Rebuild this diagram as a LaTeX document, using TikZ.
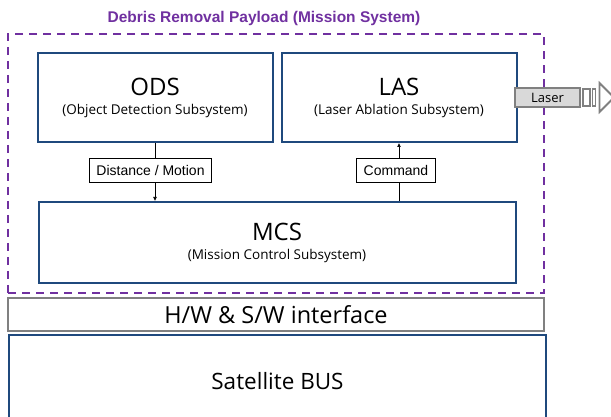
\documentclass[tikz,border=0pt]{standalone}
\usepackage{fontspec}
\setmainfont{Open Sans}
\newfontfamily\arialfont{Liberation Sans}
\usepackage{xcolor}
\usetikzlibrary{arrows.meta, positioning}

\definecolor{sysblue}{RGB}{31,73,125}
\definecolor{paypurple}{RGB}{112,48,160}
\definecolor{ifgray}{RGB}{128,128,128}
\definecolor{lasfill}{RGB}{217,217,217}

\newcommand{\bigname}[1]{{\fontsize{24}{26}\selectfont #1}}
\newcommand{\subname}[1]{{\fontsize{13.5}{15}\selectfont #1}}

\begin{document}
\begin{tikzpicture}[x=1pt, y=-1pt,
  box/.style={draw=sysblue, line width=2pt, minimum width=235pt, minimum height=89pt, align=center, inner sep=0pt},
  paybox/.style={draw=paypurple, line width=2.2pt, dash pattern=on 8pt off 6pt, minimum width=536pt, minimum height=259pt},
  ifbox/.style={draw=ifgray, line width=2.2pt, minimum width=536pt, minimum height=33pt, inner sep=0pt, font=\fontsize{23.5}{25}\selectfont},
  sig/.style={draw, fill=white, line width=0.7pt, minimum height=24pt, inner xsep=7pt, font=\arialfont\fontsize{14}{16}\selectfont},
  arr/.style={-{Latex[length=4pt, width=4pt]}, line width=0.7pt},
  laserln/.style={draw=ifgray, line width=1.8pt}
]
\useasboundingbox (0,0) rectangle (611,417);
\clip (0,0) rectangle (611,417);

% mission system frame
\node[paybox] (payload) at (276,163.5) {};
\node[text=paypurple, font=\arialfont\bfseries\fontsize{15.5}{17}\selectfont] (ttl) at (264,18) {Debris Removal Payload (Mission System)};

\node[box] (ods) at (155,97.5) {\bigname{ODS}\\[7pt]\subname{(Object Detection Subsystem)}};
\node[box, right=7pt of ods] (las) {\bigname{LAS}\\[7pt]\subname{(Laser Ablation Subsystem)}};
\node[box, minimum width=477pt, minimum height=81pt] (mcs) at (277,242.5) {\bigname{MCS}\\[7pt]\subname{(Mission Control Subsystem)}};

\node[sig] (dm) at (150.5,170) {Distance / Motion};
\node[sig] (cmd) at (396,170) {Command};

\draw[line width=0.7pt] (ods.south) -- (ods |- dm.north);
\draw[arr] (ods |- dm.south) -- (ods |- mcs.north);
\draw[line width=0.7pt] (las |- mcs.north) -- (las |- cmd.south);
\draw[arr] (las |- cmd.north) -- (las.south);

% laser beam
\node[laserln, fill=lasfill, minimum width=65pt, minimum height=19pt, inner sep=0pt, font=\fontsize{13}{15}\selectfont] (laser) at (547.5,97.5) {Laser};
\draw[laserln] (583,89) rectangle (590,106);
\draw[laserln] (592.5,89) rectangle (595.5,106);
\draw[laserln] (599.5,83) -- (614,97.5) -- (599.5,112) -- cycle;

% bus side
\node[ifbox] (hwsw) at (276,314.5) {H/W \& S/W interface};
\node[box, minimum width=537pt, minimum height=92pt, font=\fontsize{22.5}{24}\selectfont] (bus) at (277.5,381) {Satellite BUS};
\end{tikzpicture}
\end{document}
